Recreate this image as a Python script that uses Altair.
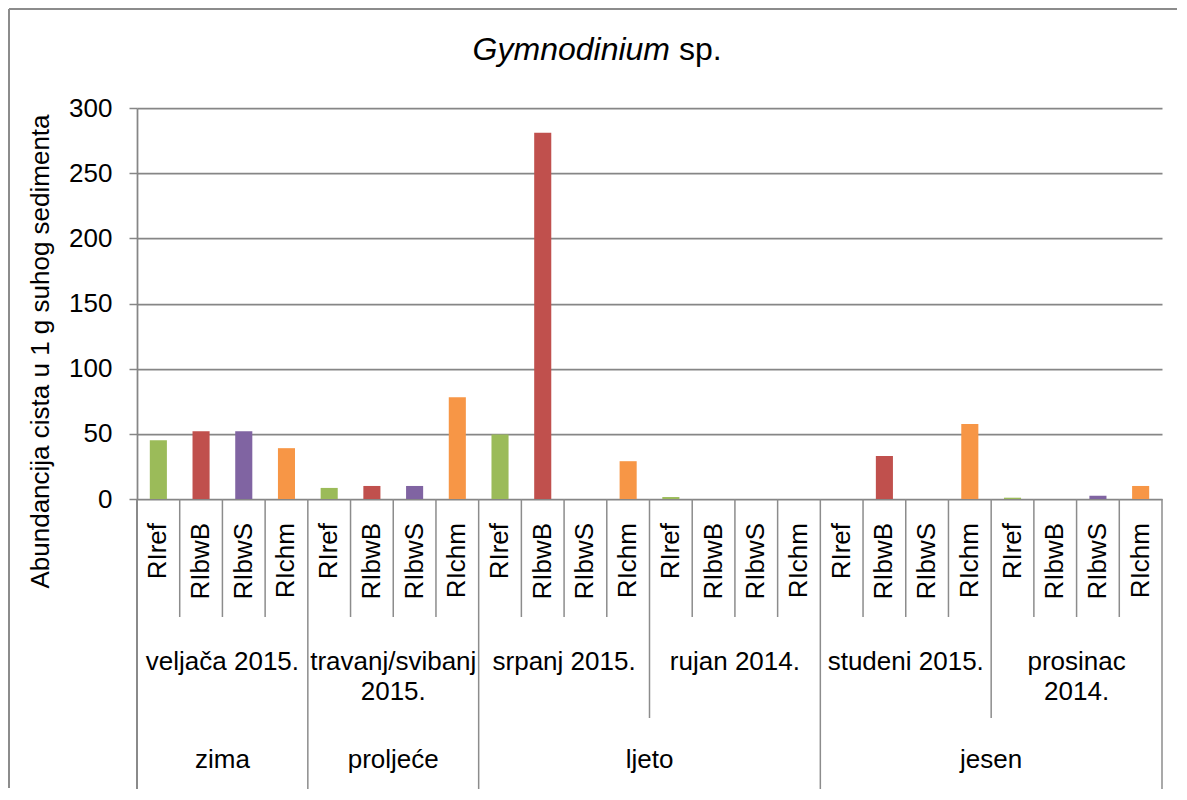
import altair as alt
import pandas as pd

# ---- data ----
seasons = ["zima", "proljeće", "ljeto", "jesen"]
months = ["veljača 2015.", "travanj/svibanj\n2015.", "srpanj 2015.",
          "rujan 2014.", "studeni 2015.", "prosinac\n2014."]
month_season = ["zima", "proljeće", "ljeto", "ljeto", "jesen", "jesen"]
stations = ["RIref", "RIbwB", "RIbwS", "RIchm"]
colors = ["#9BBB59", "#C0504D", "#8064A2", "#F79646"]

RIref = [45, 8.5, 49.5, 1.5, 0, 1]
RIbwB = [52, 10, 281, 0, 33, 0]
RIbwS = [52, 10, 0, 0, 0, 2.5]
RIchm = [39, 78, 29, 0, 57.5, 10]
series = {"RIref": RIref, "RIbwB": RIbwB, "RIbwS": RIbwS, "RIchm": RIchm}

title_italic = "Gymnodinium"
title_rest = "sp."
y_title = "Abundancija cista u 1 g suhog sedimenta"
y_ticks = [0, 50, 100, 150, 200, 250, 300]

# ---- tables built from the arrays ----
rows = []
for m, month in enumerate(months):
    for s, st in enumerate(stations):
        rows.append({"idx": m * len(stations) + s, "station": st,
                     "value": series[st][m]})
bars_df = pd.DataFrame(rows)
n = len(rows)
ns = len(stations)

station_lbl = pd.DataFrame([{"pos": r["idx"] + 0.5, "label": r["station"]} for r in rows])
month_lbl = pd.DataFrame([{"pos": m * ns + ns / 2, "label": mo} for m, mo in enumerate(months)])
season_lbl = []
for se in seasons:
    ms = [i for i, x in enumerate(month_season) if x == se]
    season_lbl.append({"pos": (min(ms) * ns + (max(ms) + 1) * ns) / 2, "label": se})
season_lbl = pd.DataFrame(season_lbl)

station_sep = pd.DataFrame({"pos": [k for k in range(1, n) if k % ns != 0]})
month_sep, season_sep = [], [0, n]
for m in range(1, len(months)):
    if month_season[m] == month_season[m - 1]:
        month_sep.append(m * ns)
    else:
        season_sep.append(m * ns)
month_sep = pd.DataFrame({"pos": month_sep})
season_sep = pd.DataFrame({"pos": season_sep})

W, H = 1025, 391
FONT = "Liberation Sans"
GRID = "#868686"
SEP = "#8c8c8c"
qx = alt.Scale(domain=[0, n], nice=False, zero=False)

bars = alt.Chart(bars_df).mark_bar().encode(
    x=alt.X("idx:O", scale=alt.Scale(paddingInner=0.6, paddingOuter=0.3), axis=None),
    y=alt.Y("value:Q", scale=alt.Scale(domain=[0, 300], nice=False),
            axis=alt.Axis(values=y_ticks, grid=True, gridColor=GRID, gridWidth=1.75,
                          domainColor=GRID, domainWidth=1.75, tickColor=GRID,
                          tickWidth=1.5, tickSize=8, labelFontSize=26, labelFont=FONT,
                          labelColor="black", labelPadding=17,
                          title=y_title, titleFont=FONT, titleFontSize=26,
                          titleFontWeight="normal", titleColor="black",
                          titleAngle=270, titleX=-97, titleY=243,
                          titleAlign="center", titleBaseline="middle")),
    color=alt.Color("station:N", scale=alt.Scale(domain=stations, range=colors), legend=None),
)


def sep_layer(df, y2):
    return alt.Chart(df).mark_rule(color=SEP, strokeWidth=1.5).encode(
        x=alt.X("pos:Q", scale=qx, axis=None),
        y=alt.value(H), y2=alt.value(y2))


def text_layer(df, y, **kw):
    return alt.Chart(df).mark_text(font=FONT, fontSize=26, color="black", **kw).encode(
        x=alt.X("pos:Q", scale=qx, axis=None),
        y=alt.value(y), text="label:N")


one = pd.DataFrame({"a": [0]})
t1 = alt.Chart(pd.DataFrame({"t": [title_italic]})).mark_text(
    font=FONT, fontSize=32, fontStyle="italic", align="right", baseline="middle",
    color="black").encode(x=alt.value(533), y=alt.value(-58), text="t:N")
t2 = alt.Chart(pd.DataFrame({"t": [title_rest]})).mark_text(
    font=FONT, fontSize=32, align="left", baseline="middle",
    color="black").encode(x=alt.value(542), y=alt.value(-58), text="t:N")

border_left = alt.Chart(one).mark_rule(color="#8c8c8c", strokeWidth=2).encode(
    x=alt.value(-128), y=alt.value(-99), y2=alt.value(680))
border_top = alt.Chart(one).mark_rule(color="#8c8c8c", strokeWidth=2).encode(
    x=alt.value(-128), x2=alt.value(1040), y=alt.value(-99))
axis_ext = alt.Chart(one).mark_rule(color=GRID, strokeWidth=1.75).encode(
    x=alt.value(0), y=alt.value(H), y2=alt.value(681))

chart = alt.layer(
    bars,
    sep_layer(station_sep, 509),
    sep_layer(month_sep, 610),
    sep_layer(season_sep, 681),
    axis_ext,
    text_layer(station_lbl, 415, angle=270, align="right", baseline="middle"),
    text_layer(month_lbl, 541, align="center", baseline="top", lineBreak="\n", lineHeight=30),
    text_layer(season_lbl, 652, align="center", baseline="middle"),
    t1, t2, border_left, border_top,
).resolve_scale(x="independent").properties(
    width=W, height=H,
    autosize=alt.AutoSizeParams(type="none"),
    padding={"left": 129, "top": 100, "right": 17, "bottom": 290},
).configure_view(stroke=None)

chart.save("out.html", embed_options={"renderer": "svg", "actions": False})
